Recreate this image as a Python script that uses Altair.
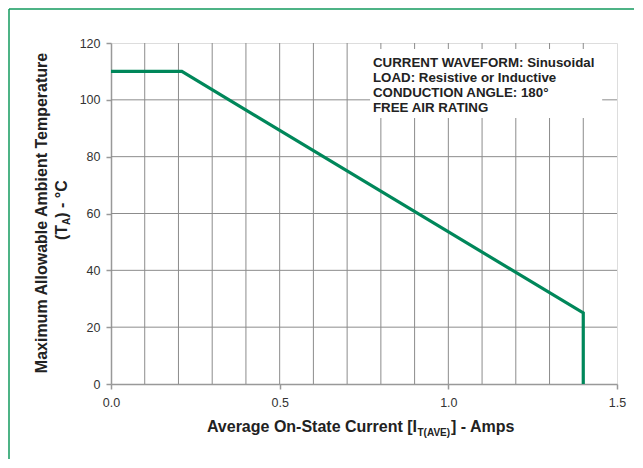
import altair as alt
import pandas as pd

# ---- data ----
current = [0.0, 0.21, 1.40, 1.40]
temperature = [110, 110, 25, 0]

x_grid = [0.1, 0.2, 0.3, 0.4, 0.5, 0.6, 0.7, 0.8, 0.9, 1.0, 1.1, 1.2, 1.3, 1.4]
y_grid = [20, 40, 60, 80, 100]
x_ticks = [0.0, 0.5, 1.0, 1.5]
y_ticks = [0, 20, 40, 60, 80, 100, 120]

note_lines = [
    "CURRENT WAVEFORM: Sinusoidal",
    "LOAD: Resistive or Inductive",
    "CONDUCTION ANGLE: 180°",
    "FREE AIR RATING",
]

W, H = 506, 341
PAD = {"left": 103, "top": 35, "right": 18, "bottom": 76}
FONT = "Liberation Sans"
GREEN = "#00875A"
GRID = "#8c8c8c"
FRAME_GREEN = "#129a5e"

xs = alt.Scale(domain=[0, 1.5], nice=False, zero=False)
ys = alt.Scale(domain=[0, 120], nice=False, zero=False)

line_df = pd.DataFrame({"I": current, "T": temperature, "o": list(range(len(current)))})
xg_df = pd.DataFrame({"x": x_grid})
yg_df = pd.DataFrame({"y": y_grid})
box_df = pd.DataFrame({"x": [0.768], "x2": [1.456], "y": [117.9], "y2": [93.6]})
one = pd.DataFrame({"a": [0]})

# outer green frame (decoration): top and left edges
frame_top = alt.Chart(one).mark_rule(color=FRAME_GREEN, strokeWidth=1.5).encode(
    x=alt.value(-102), x2=alt.value(W + PAD["right"] - 1), y=alt.value(-34)
)
frame_left = alt.Chart(one).mark_rule(color=FRAME_GREEN, strokeWidth=1.5).encode(
    x=alt.value(-102), y=alt.value(-34), y2=alt.value(H + PAD["bottom"] - 1)
)

vgrid = alt.Chart(xg_df).mark_rule(color=GRID, strokeWidth=1).encode(
    x=alt.X("x:Q", scale=xs, axis=alt.Axis(
        values=x_ticks, format=".1f", title=None, grid=False,
        domainColor="#999999", domainWidth=1.5, tickColor="#999999", tickSize=5,
        tickWidth=1.5, labelFont=FONT, labelFontSize=12.5, labelColor="#333333",
        labelPadding=7, labelFlush=False))
)
hgrid = alt.Chart(yg_df).mark_rule(color=GRID, strokeWidth=1).encode(
    y=alt.Y("y:Q", scale=ys, axis=alt.Axis(
        values=y_ticks, title=None, grid=False,
        domainColor="#999999", domainWidth=1.5, tickColor="#999999", tickSize=5,
        tickWidth=1.5, labelFont=FONT, labelFontSize=12.5, labelColor="#333333",
        labelPadding=6, labelFlush=False))
)

box = alt.Chart(box_df).mark_rect(fill="white", strokeWidth=0).encode(
    x=alt.X("x:Q", scale=xs), x2="x2", y=alt.Y("y:Q", scale=ys), y2="y2"
)

curve = alt.Chart(line_df).mark_line(color=GREEN, strokeWidth=3.2, strokeJoin="miter").encode(
    x=alt.X("I:Q", scale=xs), y=alt.Y("T:Q", scale=ys), order="o:Q"
)


def label(text, x, y, size=16, align="center", angle=0, dy=0, baseline="middle"):
    kw = dict(align=align, baseline=baseline, font=FONT, fontSize=size,
              fontWeight="bold", color="#222222", dy=dy)
    if angle:
        kw["angle"] = angle
    return alt.Chart(pd.DataFrame({"t": [text]})).mark_text(**kw).encode(
        x=alt.value(x), y=alt.value(y), text="t:N"
    )

note = [label(t, 262, 20 + 15 * i, size=13.3, align="left") for i, t in enumerate(note_lines)]

# x axis title with subscript
X1 = 306
xt1 = label("Average On-State Current [I", X1, 384, align="right")
xt2 = label("T(AVE)", X1 + 0.5, 384, size=10, align="left", dy=6)
xt3 = label("] - Amps", X1 + 34, 384, align="left")

# y axis title (two lines, second with subscript)
yt1 = label("Maximum Allowable Ambient Temperature", -69, 170, angle=270)
Y0 = 197
yt2 = label("(T", -49, Y0, align="left", angle=270)
yt3 = label("A", -49, Y0 - 15.1, size=10, align="left", angle=270, dy=5)
yt4 = label(") - °C", -49, Y0 - 15.1 - 7.2, align="left", angle=270)

chart = alt.layer(
    frame_top, frame_left, vgrid, hgrid, box, curve, *note,
    xt1, xt2, xt3, yt1, yt2, yt3, yt4
).properties(
    width=W, height=H,
    autosize=alt.AutoSizeParams(type="none"),
    padding=PAD,
).configure_view(
    stroke="#999999", strokeWidth=1.5
).configure(background="white")

chart.save("out.html", embed_options={"renderer": "svg", "actions": False})
